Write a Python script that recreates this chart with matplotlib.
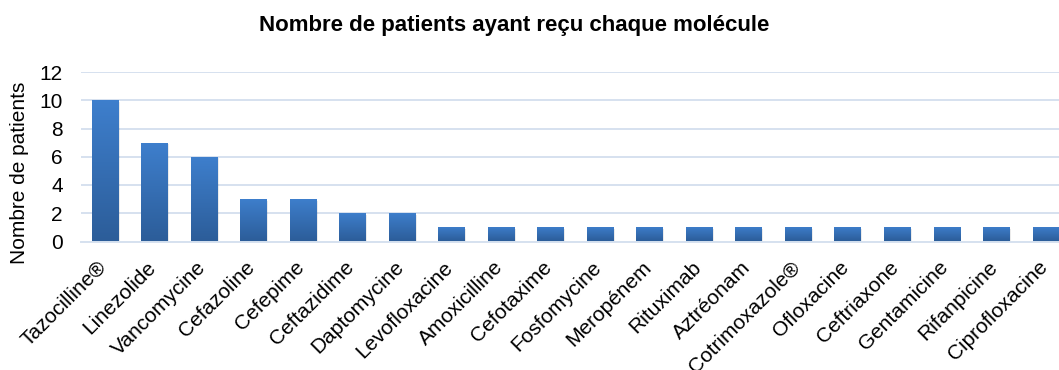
import numpy as np
import matplotlib
matplotlib.use("Agg")
import matplotlib.pyplot as plt
from matplotlib.colors import LinearSegmentedColormap
from matplotlib.transforms import ScaledTranslation

plt.rcParams['font.family'] = ['Liberation Sans', 'DejaVu Sans']

molecules = ["Tazocilline®", "Linezolide", "Vancomycine", "Cefazoline", "Cefepime",
             "Ceftazidime", "Daptomycine", "Levofloxacine", "Amoxicilline", "Cefotaxime",
             "Fosfomycine", "Meropénem", "Rituximab", "Aztréonam", "Cotrimoxazole®",
             "Ofloxacine", "Ceftriaxone", "Gentamicine", "Rifanpicine", "Ciprofloxacine"]
patients = [10, 7, 6, 3, 3, 2, 2, 1, 1, 1, 1, 1, 1, 1, 1, 1, 1, 1, 1, 1]
y_ticks = [0, 2, 4, 6, 8, 10, 12]

W, H = 1059, 370
fig = plt.figure(figsize=(W / 100, H / 100), dpi=100)
ax = fig.add_axes([81 / W, (H - 241.5) / H, (1059 - 81) / W, (241.5 - 72) / H])

x = np.arange(len(molecules))
bw = 0.53
grid_col = "#d6e1ef"

ax.set_yticks(y_ticks)
ax.yaxis.grid(True, color=grid_col, linewidth=1.4)
ax.set_axisbelow(True)
for s in ["top", "right", "left"]:
    ax.spines[s].set_visible(False)
ax.spines["bottom"].set_color(grid_col)
ax.spines["bottom"].set_linewidth(1.4)
ax.tick_params(axis="both", length=0, labelsize=15, colors="black")
ax.tick_params(axis="y", pad=13)

bars = ax.bar(x, patients, width=bw, color="#3574bf", zorder=2)

# vertical gradient inside each bar, lighter at the top
cmap = LinearSegmentedColormap.from_list("bar_grad", ["#2c5d99", "#3e7fcd"])
grad = np.linspace(0, 1, 256).reshape(-1, 1)
for b in bars:
    x0, w, h = b.get_x(), b.get_width(), b.get_height()
    # soft shadow under the bar
    ax.add_patch(plt.Rectangle((x0 + 0.03, -0.12), w, h, color="#000000",
                               alpha=0.08, zorder=1.5, linewidth=0))
    im = ax.imshow(grad, cmap=cmap, origin="lower", aspect="auto",
                   extent=(x0, x0 + w, 0, h), zorder=3)
    im.set_clip_path(b)
ax.set_xlim(-0.485, 19.27)
ax.set_ylim(0, 12)

ax.set_xticks(x)
ax.set_xticklabels(molecules, rotation=45, ha="right", va="top",
                   rotation_mode="anchor", fontsize=15)
ax.tick_params(axis="x", pad=13)
shift = ScaledTranslation(-8 / 100, 2 / 100, fig.dpi_scale_trans)
for lbl in ax.get_xticklabels():
    lbl.set_transform(lbl.get_transform() + shift)

fig.text(514 / W, 1 - 26 / H, "Nombre de patients ayant reçu chaque molécule",
         ha="center", va="center", fontsize=16, fontweight="bold")
fig.text(20 / W, 1 - 173 / H, "Nombre de patients", rotation=90,
         ha="center", va="center", fontsize=15)

fig.savefig("out.png", dpi=100)
